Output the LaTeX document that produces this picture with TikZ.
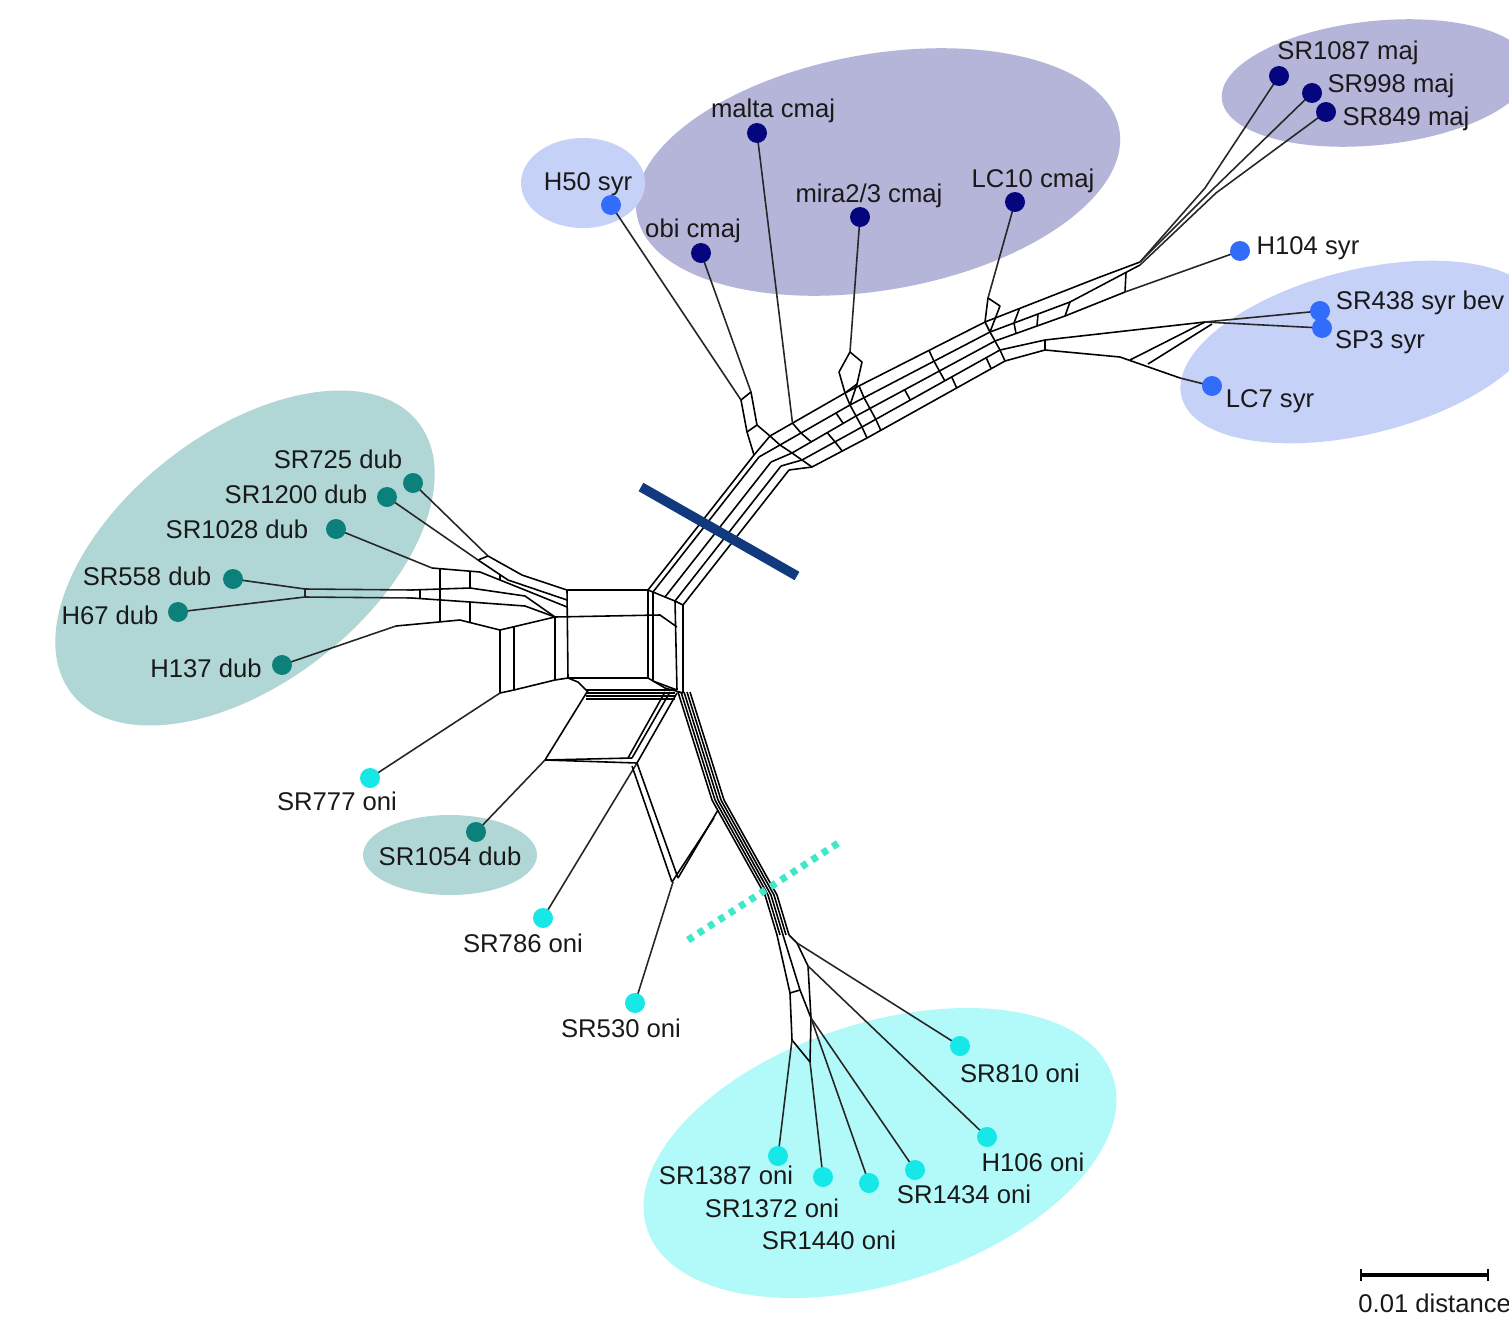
\documentclass[tikz,border=0pt]{standalone}
\usepackage{fontspec}
\setmainfont{Liberation Sans}
\usetikzlibrary{calc}
\definecolor{majfill}{RGB}{181,181,217}
\definecolor{syrfill}{RGB}{198,209,247}
\definecolor{dubfill}{RGB}{176,215,213}
\definecolor{onifill}{RGB}{178,250,250}
\definecolor{majdot}{RGB}{5,5,125}
\definecolor{syrdot}{RGB}{50,108,250}
\definecolor{dubdot}{RGB}{12,128,122}
\definecolor{onidot}{RGB}{22,232,232}
\definecolor{barblue}{RGB}{16,58,125}
\definecolor{bargreen}{RGB}{62,232,200}
\tikzset{
  net/.style={line width=0.9pt, line join=round},
  twig/.style={line width=0.9pt, draw=black!85},
  leaf/.style={circle, fill=#1, inner sep=0pt, minimum size=0.4cm},
  lab/.style={font=\fontsize{14.6}{17}\selectfont, inner sep=0pt, text height=10.4pt, text depth=0pt, text=black!90},
}
\begin{document}
\begin{tikzpicture}[x=0.02cm,y=-0.02cm]
\useasboundingbox (0,0) rectangle (1509,1322);
% groups
\fill[majfill, rotate around={10:(878,172)}] (878,172) ellipse (245 and 118);
\fill[majfill, rotate around={6:(1376,83)}] (1376,83) ellipse (155 and 62);
\fill[syrfill] (583,183) ellipse (62 and 45);
\fill[syrfill, rotate around={14:(1361,352)}] (1361,352) ellipse (185 and 82);
\fill[dubfill, rotate around={38:(245,558)}] (245,558) ellipse (220 and 125);
\fill[dubfill] (450,855) ellipse (87 and 40);
\fill[onifill, rotate around={18:(880,1153)}] (880,1153) ellipse (245 and 130);
% leaf positions
\coordinate (h50) at (611,205);
\coordinate (obi) at (701,253);
\coordinate (malta) at (757,133);
\coordinate (mira) at (860,217);
\coordinate (lc10) at (1015,202);
\coordinate (sr1087) at (1279,76);
\coordinate (sr998) at (1312,93);
\coordinate (sr849) at (1326,112);
\coordinate (h104) at (1240,251);
\coordinate (sr438) at (1320,311);
\coordinate (sp3) at (1322,328);
\coordinate (lc7) at (1212,386);
\coordinate (sr725) at (413,483);
\coordinate (sr1200) at (387,497);
\coordinate (sr1028) at (336,529);
\coordinate (sr558) at (233,579);
\coordinate (h67) at (178,612);
\coordinate (h137) at (282,665);
\coordinate (sr777) at (370,778);
\coordinate (sr1054) at (476,832);
\coordinate (sr786) at (543,918);
\coordinate (sr530) at (635,1003);
\coordinate (sr810) at (960,1046);
\coordinate (h106) at (987,1137);
\coordinate (sr1387) at (778,1156);
\coordinate (sr1372) at (823,1177);
\coordinate (sr1440) at (869,1183);
\coordinate (sr1434) at (915,1170);
% central box
\draw[net] (567,590) -- (648,590) -- (648,678) -- (568,678) -- cycle;
\draw[net] (653,592) -- (653,681);
\draw[net] (555,617) -- (660,615) -- (677,627);
\draw[net] (555,617) -- (555,680) -- (568,678);
\draw[net] (648,590) -- (653,592) -- (665,597) -- (675,601) -- (683,605);
\draw[net] (675,601) -- (677,690);
\draw[net] (683,605) -- (683,693);
\draw[net] (648,678) -- (665,688) -- (683,693);
\draw[net] (653,681) -- (677,690);
% NE trunk
\foreach \x/\y in {648/590, 653/592, 665/597, 675/601, 683/605}
  \draw[net] (\x,\y) -- ++(106,-135);
% arc towards cmaj, maj and syr
\coordinate (L0a) at (754,455); \coordinate (L0b) at (770,436); \coordinate (L0c) at (845,393);
\coordinate (L0d) at (985,322); \coordinate (L0e) at (1100,277); \coordinate (L0f) at (1140,262);
\coordinate (L1a) at (759,457); \coordinate (L1b) at (780,445); \coordinate (L1c) at (850,405);
\coordinate (L1d) at (990,332); \coordinate (L1e) at (1070,302); \coordinate (L1f) at (1140,265);
\coordinate (L2a) at (771,462); \coordinate (L2b) at (792,453); \coordinate (L2c) at (856,416);
\coordinate (L2d) at (995,341); \coordinate (L2e) at (1065,316); \coordinate (L2f) at (1125,292);
\coordinate (L3a) at (781,466); \coordinate (L3b) at (802,460); \coordinate (L3c) at (862,427);
\coordinate (L3d) at (1000,350); \coordinate (L3e) at (1045,340);
\coordinate (L4a) at (789,470); \coordinate (L4b) at (812,467); \coordinate (L4c) at (867,438);
\coordinate (L4d) at (1005,361); \coordinate (L4e) at (1045,350);
\draw[net] (L0a) -- (L0b) -- (L0c) -- (L0d) -- (L0e) -- (L0f);
\draw[net] (L1a) -- (L1b) -- (L1c) -- (L1d) -- (L1e) -- (L1f);
\draw[net] (L2a) -- (L2b) -- (L2c) -- (L2d) -- (L2e) -- (L2f);
\draw[net] (L3a) -- (L3b) -- (L3c) -- (L3d) -- (L3e);
\draw[net] (L4a) -- (L4b) -- (L4c) -- (L4d) -- (L4e);
\draw[net] (L0b) -- (L1b) -- (L2b) -- (L3b) -- (L4b);
\draw[net] (L0c) -- (L1c) -- (L2c) -- (L3c) -- (L4c);
\draw[net] (L0d) -- (L1d) -- (L2d) -- (L3d) -- (L4d);
\draw[net] (L3e) -- (L4e);
\draw[net] (L1e) -- (L2e);
\foreach \s/\e/\t/\i/\j in {b/c/0.3/0/1, b/c/0.3/1/2, b/c/0.55/2/3, b/c/0.55/3/4, b/c/0.8/1/2,
    c/d/0.1/0/1, c/d/0.1/1/2, c/d/0.1/2/3, c/d/0.1/3/4, c/d/0.35/2/3, c/d/0.6/0/1,
    c/d/0.6/1/2, c/d/0.6/2/3, c/d/0.65/3/4, c/d/0.9/3/4, d/e/0.3/0/1, d/e/0.3/1/2, d/e/0.6/1/2}
  \draw[net] ($(L\i\s)!\t!(L\i\e)$) -- ($(L\j\s)!\t!(L\j\e)$);
% cmaj leaves
\coordinate (Ha) at (741,400);
\coordinate (Ob) at (751,392);
\draw[twig] (h50) -- (Ha);
\draw[twig] (obi) -- (Ob);
\draw[net] (Ha) -- (747,432) -- (L0a);
\draw[net] (Ob) -- (757,425) -- (L0b);
\draw[net] (Ha) -- (Ob);
\draw[net] (747,432) -- (757,425);
\coordinate (Ma) at ($(L0b)!0.3!(L0c)$);
\draw[twig] (malta) -- (Ma);
\coordinate (Mi) at (850,352);
\draw[twig] (mira) -- (Mi);
\draw[net] (Mi) -- (839,372) -- (L0c);
\draw[net] (Mi) -- (862,362) -- (857,384) -- (L1c);
\draw[net] (L0c) -- (857,384);
\coordinate (Lc) at (988,298);
\draw[twig] (lc10) -- (Lc);
\draw[net] (Lc) -- (L0d);
\draw[net] (Lc) -- (1000,306) -- (L1d);
% maj and syr
\draw[twig] (L0f) -- (1205,188) -- (sr1087);
\draw[twig] (L0f) -- (1212,190) -- (sr998);
\draw[twig] (L1f) -- (1216,193) -- (sr849);
\draw[net] ($(L1e)!0.8!(L1f)$) -- (L2f);
\draw[twig] (L2f) -- (h104);
\coordinate (Sy) at (1205,322);
\draw[net] (L3e) -- (Sy);
\draw[net] (L4e) -- (1120,357) -- (1180,378);
\draw[net] (1130,360) -- (Sy);
\draw[net] (1148,364) -- (1212,324);
\draw[twig] (Sy) -- (sr438);
\draw[twig] (Sy) -- (sp3);
\draw[twig] (1180,378) -- (lc7);
% dub fan
\draw[twig] (sr725) -- (488,556);
\draw[twig] (sr1200) -- (478,560);
\draw[twig] (sr1028) -- (432,568);
\draw[twig] (sr558) -- (305,589) -- (412,590);
\draw[twig] (h67) -- (305,597) -- (412,598);
\draw[twig] (305,589) -- (305,597);
\draw[twig] (h137) -- (396,626);
\draw[net] (488,556) -- (522,575) -- (567,590);
\draw[net] (478,560) -- (508,580) -- (567,600);
\draw[net] (432,568) -- (480,572) -- (520,588) -- (567,607);
\draw[net] (412,590) -- (470,588) -- (525,596) -- (555,617);
\draw[net] (412,598) -- (470,602) -- (525,606) -- (555,617);
\draw[net] (396,626) -- (460,620) -- (500,630) -- (555,617);
\draw[net] (440,569) -- (440,589) -- (440,600) -- (440,622);
\draw[net] (470,571) -- (470,588);
\draw[net] (470,602) -- (470,622);
\draw[net] (500,575) -- (500,580);
\draw[net] (420,590) -- (420,598);
\draw[net] (488,556) -- (478,560);
% lower block
\draw[net] (500,630) -- (500,693);
\draw[net] (514,627) -- (514,690);
\draw[net] (500,693) -- (514,690) -- (555,680);
\draw[twig] (sr777) -- (500,693);
\draw[net] (568,678) -- (578,682) -- (588,692);
\foreach \d in {0,3,6,9}
  \draw[net] (586,690+\d) -- (675,690+\d);
\coordinate (Dn) at (545,760);
\draw[net] (Dn) -- (587,692);
\draw[twig] (sr1054) -- (Dn);
\draw[net] (Dn) -- (632,758);
\draw[net] (Dn) -- (637,763);
\draw[net] (628,758) -- (665,692);
\draw[net] (632,758) -- (670,692);
\draw[net] (637,763) -- (677,693);
\draw[twig] (sr786) -- (637,763);
\draw[net] (632,766) -- (672,882);
\draw[net] (637,763) -- (678,878);
\draw[twig] (sr530) -- (673,882);
\draw[net] (672,882) -- (714,818);
\draw[net] (678,878) -- (718,810);
% oni trunk
\foreach \d in {0,3,6,9,12}
  \draw[net] (678+\d,692) -- (712+\d,800) -- (765+\d,895) -- (777+\d,935);
\coordinate (O1) at (797,943);
\coordinate (O2) at (808,966);
\coordinate (O3) at (811,1018);
\coordinate (O4) at (810,1062);
\coordinate (O5) at (792,1040);
\draw[net] (789,935) -- (O1) -- (O2) -- (O3) -- (O4);
\draw[net] (777,935) -- (790,993) -- (O5) -- (O4);
\draw[net] (783,935) -- (800,990) -- (O3);
\draw[net] (790,993) -- (800,990);
\draw[twig] (O1) -- (sr810);
\draw[twig] (O2) -- (h106);
\draw[twig] (O3) -- (sr1434);
\draw[twig] (O3) -- (sr1440);
\draw[twig] (O4) -- (sr1372);
\draw[twig] (O5) -- (sr1387);
% split bars
\draw[barblue, line width=5.5pt] (641,487) -- (797,576);
\draw[bargreen, line width=4pt, dash pattern=on 3.5pt off 3.5pt] (688,940) -- (843,840);
% dots
\foreach \n in {malta, obi, mira, lc10, sr1087, sr998, sr849}
  \node[leaf=majdot] (\n-dot) at (\n) {};
\foreach \n in {h50, h104, sr438, sp3, lc7}
  \node[leaf=syrdot] (\n-dot) at (\n) {};
\foreach \n in {sr725, sr1200, sr1028, sr558, h67, h137, sr1054}
  \node[leaf=dubdot] (\n-dot) at (\n) {};
\foreach \n in {sr777, sr786, sr530, sr810, h106, sr1387, sr1372, sr1440, sr1434}
  \node[leaf=onidot] (\n-dot) at (\n) {};
% labels
\node[lab] (h50-l) at (588,181) {H50 syr};
\node[lab] (obi-l) at (693,228) {obi cmaj};
\node[lab] (malta-l) at (773,108) {malta cmaj};
\node[lab] (mira-l) at (869,193) {mira2/3 cmaj};
\node[lab] (lc10-l) at (1033,178) {LC10 cmaj};
\node[lab] (sr1087-l) at (1348,50) {SR1087 maj};
\node[lab] (sr998-l) at (1391,83) {SR998 maj};
\node[lab] (sr849-l) at (1406,116) {SR849 maj};
\node[lab] (h104-l) at (1308,245) {H104 syr};
\node[lab] (sr438-l) at (1420,300) {SR438 syr bev};
\node[lab] (sp3-l) at (1380,339) {SP3 syr};
\node[lab] (lc7-l) at (1270,398) {LC7 syr};
\node[lab] (sr725-l) at (338,459) {SR725 dub};
\node[lab] (sr1200-l) at (296,494) {SR1200 dub};
\node[lab] (sr1028-l) at (237,529) {SR1028 dub};
\node[lab] (sr558-l) at (147,576) {SR558 dub};
\node[lab] (h67-l) at (110,615) {H67 dub};
\node[lab] (h137-l) at (206,668) {H137 dub};
\node[lab] (sr777-l) at (337,801) {SR777 oni};
\node[lab] (sr1054-l) at (450,856) {SR1054 dub};
\node[lab] (sr786-l) at (523,943) {SR786 oni};
\node[lab] (sr530-l) at (621,1028) {SR530 oni};
\node[lab] (sr810-l) at (1020,1073) {SR810 oni};
\node[lab] (h106-l) at (1033,1162) {H106 oni};
\node[lab] (sr1387-l) at (726,1175) {SR1387 oni};
\node[lab] (sr1372-l) at (772,1208) {SR1372 oni};
\node[lab] (sr1440-l) at (829,1240) {SR1440 oni};
\node[lab] (sr1434-l) at (964,1194) {SR1434 oni};
% scale bar
\coordinate (sb1) at (1361,1275);
\coordinate (sb2) at (1488,1275);
\draw[line width=2pt] (sb1) -- (sb2);
\draw[line width=1.5pt] ([yshift=-0.12cm]sb1) -- ([yshift=0.12cm]sb1);
\draw[line width=1.5pt] ([yshift=-0.12cm]sb2) -- ([yshift=0.12cm]sb2);
\node[lab, anchor=west] (sb-l) at (1358,1303) {0.01 distance};
\end{tikzpicture}
\end{document}
